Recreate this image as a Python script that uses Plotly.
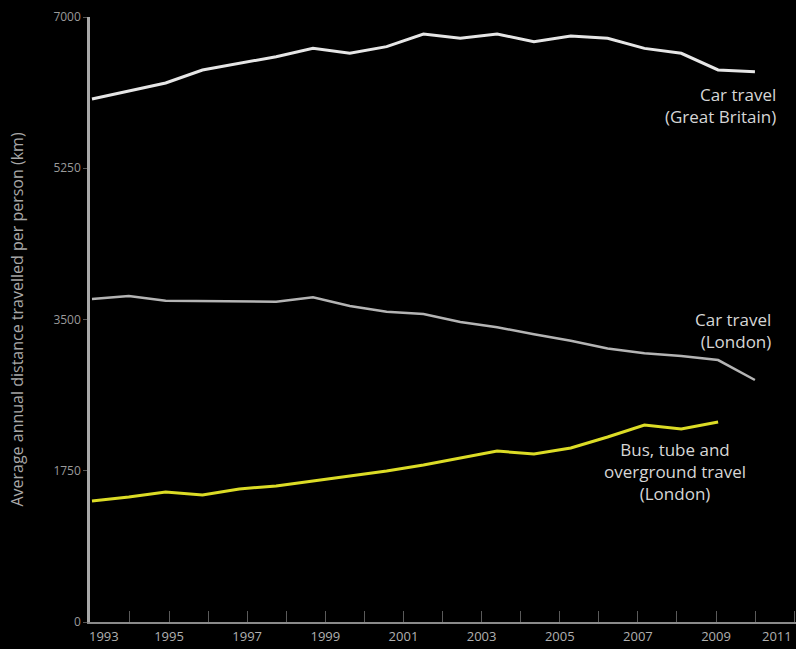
import plotly.graph_objects as go

# ---- data ----
car_years = list(range(1993, 2012))          # 19 plotted points
bus_years = list(range(1993, 2011))          # 18 plotted points

car_gb = [6051, 6140, 6236, 6387, 6464, 6541, 6637, 6580, 6657, 6803,
          6753, 6803, 6714, 6780, 6753, 6637, 6580, 6387, 6367]
car_london = [3737, 3772, 3718, 3712, 3710, 3706, 3757, 3656, 3590, 3564,
              3470, 3410, 3330, 3255, 3165, 3109, 3078, 3031, 2800]
bus_london = [1400, 1446, 1504, 1469, 1539, 1574, 1631, 1689, 1747, 1816,
              1897, 1978, 1944, 2013, 2140, 2279, 2233, 2314]

tick_years = list(range(1993, 2012))
tick_labels = [str(y) if (y % 2 == 1 and y not in (1993, 2011)) else "" for y in tick_years]
y_ticks = [0, 1750, 3500, 5250, 7000]

FONT = "'Open Sans', Lato, sans-serif"

fig = go.Figure()
fig.add_trace(go.Scatter(x=car_years, y=car_gb, mode="lines",
                         line=dict(color="#e6e6e6", width=3), xaxis="x", yaxis="y",
                         hoverinfo="skip", showlegend=False))
fig.add_trace(go.Scatter(x=car_years, y=car_london, mode="lines",
                         line=dict(color="#b4b4b4", width=2.5), xaxis="x", yaxis="y",
                         hoverinfo="skip", showlegend=False))
fig.add_trace(go.Scatter(x=bus_years, y=bus_london, mode="lines",
                         line=dict(color="#dcdc26", width=3), xaxis="x", yaxis="y",
                         hoverinfo="skip", showlegend=False))
# dummy trace to attach the visible year axis
fig.add_trace(go.Scatter(x=[1993], y=[None], xaxis="x2", yaxis="y",
                         mode="markers", hoverinfo="skip", showlegend=False))

fig.update_layout(
    width=796, height=649,
    margin=dict(l=90, r=0, t=17, b=27),
    paper_bgcolor="#000000", plot_bgcolor="#000000",
    font=dict(family=FONT, color="#aaaaaa"),
    showlegend=False,
    xaxis=dict(visible=False, range=[1992.946, 2012.115]),
    xaxis2=dict(overlaying="x", anchor="y", side="bottom",
                range=[1992.977, 2011.047],
                tickmode="array", tickvals=tick_years, ticktext=tick_labels,
                ticks="inside", ticklen=11, tickwidth=1, tickcolor="#5a5a5a",
                showline=True, linecolor="#8a8a8a", linewidth=2,
                showgrid=False, zeroline=False, ticklabelstandoff=1,
                tickfont=dict(size=13, color="#b0b0b0")),
    yaxis=dict(range=[0, 7000], tickmode="array", tickvals=y_ticks,
               ticks="outside", ticklen=4, tickcolor="#555555",
               showline=True, linecolor="#a8a8a8", linewidth=2.5,
               showgrid=False, zeroline=False,
               tickfont=dict(size=12, color="#9a9a9a"),
               title=dict(text="Average annual distance travelled per person (km)",
                          font=dict(size=16, color="#a8a8a8"), standoff=26)),
)

ann_font = dict(family=FONT, size=17, color="#d6d6d6")
fig.add_annotation(text="Car travel<br>(Great Britain)", xref="paper", yref="paper",
                   x=0.9745, y=0.8545, xanchor="right", yanchor="middle",
                   align="right", showarrow=False, font=ann_font)
fig.add_annotation(text="Car travel<br>(London)", xref="paper", yref="paper",
                   x=0.967, y=0.4826, xanchor="right", yanchor="middle",
                   align="right", showarrow=False, font=ann_font)
fig.add_annotation(text="Bus, tube and<br>overground travel<br>(London)", xref="paper", yref="paper",
                   x=0.8286, y=0.248, xanchor="center", yanchor="middle",
                   align="center", showarrow=False, font=ann_font)

# end year labels kept inside the frame
lbl_font = dict(family=FONT, size=13, color="#b0b0b0")
fig.add_annotation(text="1993", xref="x2", yref="paper", x=1993, y=0,
                   xanchor="left", yanchor="top", yshift=-3, xshift=-4,
                   showarrow=False, font=lbl_font)
fig.add_annotation(text="2011", xref="x2", yref="paper", x=2011, y=0,
                   xanchor="right", yanchor="top", yshift=-3,
                   showarrow=False, font=lbl_font)

fig.write_html("out.html",
               config={"displayModeBar": False},
               post_script="document.body.style.margin='0px';document.body.style.padding='0px';")
